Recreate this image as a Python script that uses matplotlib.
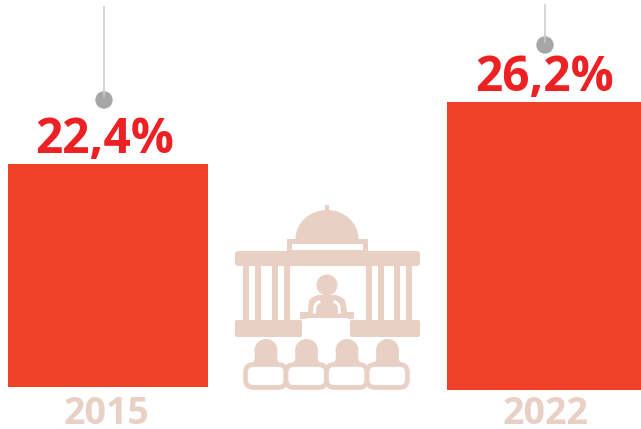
import matplotlib
matplotlib.use("Agg")
import matplotlib.pyplot as plt
from matplotlib.patches import Circle, Ellipse, FancyBboxPatch, Polygon, Rectangle

years = ["2015", "2022"]
values = [22.4, 26.2]
value_labels = ["22,4%", "26,2%"]
# the bars don't start at zero in the original, and not quite at the same level
bar_bases = [8.73, 8.55]

RED = "#ef4028"
TEXT_RED = "#ed2024"
PALE = "#e8d0c5"

plt.rcParams["font.family"] = ["Open Sans", "DejaVu Sans"]

fig = plt.figure(figsize=(6.41, 4.29), dpi=100)

# bars, in value units
ax = fig.add_axes([0, 0, 1, 1])
ax.set_xlim(0, 641)
ax.set_ylim(6.16, 32.45)
ax.axis("off")
heights = [v - b for v, b in zip(values, bar_bases)]
ax.bar([107.75, 547], heights, width=[200.5, 200], bottom=bar_bases, color=RED)

# everything else, in pixels from the top left
dec = fig.add_axes([0, 0, 1, 1])
dec.set_xlim(0, 641)
dec.set_ylim(429, 0)
dec.axis("off")
dec.patch.set_alpha(0)

# pins
dec.plot([104, 104], [7, 97], color="#c9c9c9", lw=1.1)
dec.add_patch(Ellipse((104, 100), 16, 16, color="#a6a6a6"))
dec.plot([545, 545], [5, 42], color="#c9c9c9", lw=1.1)
dec.add_patch(Ellipse((545, 45), 16, 16, color="#a6a6a6"))

# labels
dec.text(104.5, 153, value_labels[0], color=TEXT_RED, fontsize=34.5, fontweight="bold", ha="center", va="baseline")
dec.text(545, 91, value_labels[1], color=TEXT_RED, fontsize=34.5, fontweight="bold", ha="center", va="baseline")
dec.text(106.5, 424, years[0], color=PALE, fontsize=27, fontweight="bold", ha="center", va="baseline")
dec.text(546, 424, years[1], color=PALE, fontsize=27, fontweight="bold", ha="center", va="baseline")

# parliament icon
dec.add_patch(Rectangle((325, 205), 4, 8, color=PALE, lw=0))
dec.add_patch(Ellipse((327, 239), 63, 58, color=PALE, lw=0))
dec.add_patch(Rectangle((290, 239), 75, 30, color="white", lw=0))
dec.add_patch(Rectangle((287, 239), 81, 12, color=PALE, lw=0))
dec.add_patch(Rectangle((292, 244), 71, 6, color="white", lw=0))
dec.add_patch(FancyBboxPatch((236, 252), 183, 13, boxstyle="round,pad=1,rounding_size=3", color=PALE, lw=0))
for x0 in [243, 255, 272, 284, 366, 378, 394, 406]:
    dec.add_patch(Rectangle((x0, 266), 5.5, 54, color=PALE, lw=0))
dec.add_patch(FancyBboxPatch((236, 321), 65, 15, boxstyle="round,pad=1,rounding_size=2", color=PALE, lw=0))
dec.add_patch(FancyBboxPatch((351, 321), 68, 15, boxstyle="round,pad=1,rounding_size=2", color=PALE, lw=0))

# speaker
dec.add_patch(Circle((327, 285), 10.5, color=PALE, lw=0))
dec.add_patch(Polygon([(308, 312), (309, 300), (313, 297), (318, 295), (336, 295), (341, 297), (345, 300), (347, 312)],
                      closed=True, color=PALE, lw=0))
dec.plot([314.5, 315, 317, 319], [312, 306, 303, 302], color="white", lw=2.2)
dec.plot([339.5, 339, 337, 335], [312, 306, 303, 302], color="white", lw=2.2)
dec.add_patch(Rectangle((300, 312), 54, 7, color=PALE, lw=0))
dec.add_patch(Rectangle((306, 318), 42, 20, color="white", lw=0))

# audience
for hx in [266, 306.5, 347, 387.5]:
    dec.add_patch(Circle((hx, 350.5), 11.5, color=PALE, lw=0))
    dec.add_patch(Polygon([(hx - 11, 353), (hx + 11, 353), (hx + 11.5, 360), (hx + 16, 366), (hx - 16, 366), (hx - 11.5, 360)],
                          closed=True, color=PALE, lw=0))
for bx in [245.5, 286, 326.5, 367]:
    dec.add_patch(FancyBboxPatch((bx, 364.5), 40.5, 23, boxstyle="round,pad=0,rounding_size=8",
                                 facecolor="white", edgecolor=PALE, lw=3.4))

fig.savefig("out.png", dpi=100)
